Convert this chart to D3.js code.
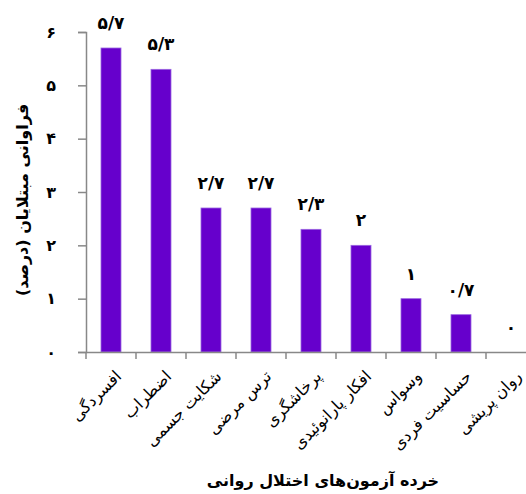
<!DOCTYPE html>
<html>
<head>
<meta charset="utf-8">
<script src="https://cdn.jsdelivr.net/npm/d3@7"></script>
<style>
  body { margin: 0; background: #fff; }
  text { font-family: "DejaVu Sans", sans-serif; }
</style>
</head>
<body>
<div id="chart"></div>
<script>
// data
const categories = ["افسردگی", "اضطراب", "شکایت جسمی", "ترس مرضی", "پرخاشگری", "افکار پارانوئیدی", "وسواس", "حساسیت فردی", "روان پریشی"];
const values = [5.7, 5.3, 2.7, 2.7, 2.3, 2, 1, 0.7, 0];
const yTicks = [0, 1, 2, 3, 4, 5, 6];
const yTitle = "فراوانی مبتلایان (درصد)";
const xTitle = "خرده آزمون‌های اختلال روانی";

const faDigits = "۰۱۲۳۴۵۶۷۸۹";
const toFa = v => String(v).replace(/\d/g, d => faDigits[+d]).replace(".", "/");

const width = 526, height = 494;
const margin = { left: 86, top: 32, bottom: 142 };
const band = 50;

const svg = d3.select("#chart").append("svg")
    .attr("width", width)
    .attr("height", height);

// scales
const x = d3.scaleBand()
    .domain(categories)
    .range([margin.left, margin.left + band * categories.length])
    .paddingInner(0.6)
    .paddingOuter(0.3);

const y = d3.scaleLinear()
    .domain([0, 6])
    .range([height - margin.bottom, margin.top]);

// bars
svg.selectAll(".bar")
    .data(values)
    .enter().append("rect")
    .attr("class", "bar")
    .attr("x", (d, i) => x(categories[i]))
    .attr("y", d => y(d))
    .attr("width", x.bandwidth())
    .attr("height", d => y(0) - y(d))
    .attr("fill", "#6600cc")
    .attr("stroke", "#9a66e0")
    .attr("stroke-width", 0.8);

// value labels
svg.selectAll(".val")
    .data(values)
    .enter().append("text")
    .attr("class", "val")
    .attr("x", (d, i) => x(categories[i]) + x.bandwidth() / 2)
    .attr("y", d => y(d) - 19)
    .attr("text-anchor", "middle")
    .attr("font-size", 17)
    .attr("font-weight", "bold")
    .text(d => toFa(d));

// y axis
const yAxis = svg.append("g")
    .attr("transform", `translate(${margin.left},0)`)
    .call(d3.axisLeft(y).tickValues(yTicks).tickSize(8).tickPadding(22).tickFormat(toFa));
yAxis.select(".domain").attr("stroke", "#888").attr("stroke-width", 1.5);
yAxis.selectAll(".tick line").attr("stroke", "#888").attr("stroke-width", 1.5);
yAxis.selectAll(".tick text")
    .attr("font-size", 16)
    .attr("font-weight", "bold")
    .attr("fill", "#000");

// x axis
const xAxis = svg.append("g")
    .attr("transform", `translate(0,${y(0)})`)
    .call(d3.axisBottom(x).tickSize(0).tickPadding(14));
xAxis.select(".domain").attr("stroke", "#888").attr("stroke-width", 1.5);
xAxis.selectAll(".tick text")
    .attr("font-size", 16)
    .attr("fill", "#000")
    .attr("text-anchor", "end")
    .attr("dy", "0.3em")
    .attr("transform", "translate(8,22) rotate(-45)")
    .attr("x", 0).attr("y", 0);

// x tick marks at band boundaries
svg.append("g").selectAll("line")
    .data(d3.range(categories.length))
    .enter().append("line")
    .attr("x1", i => margin.left + band * i)
    .attr("x2", i => margin.left + band * i)
    .attr("y1", y(0))
    .attr("y2", y(0) + 7)
    .attr("stroke", "#888")
    .attr("stroke-width", 1.5);

// titles
svg.append("text")
    .attr("transform", `translate(22,200) rotate(-90)`)
    .attr("text-anchor", "middle")
    .attr("dy", "0.35em")
    .attr("font-size", 16)
    .attr("font-weight", "bold")
    .text(yTitle);

svg.append("text")
    .attr("x", 323)
    .attr("y", 486)
    .attr("text-anchor", "middle")
    .attr("font-size", 16)
    .attr("font-weight", "bold")
    .text(xTitle);
</script>
</body>
</html>
